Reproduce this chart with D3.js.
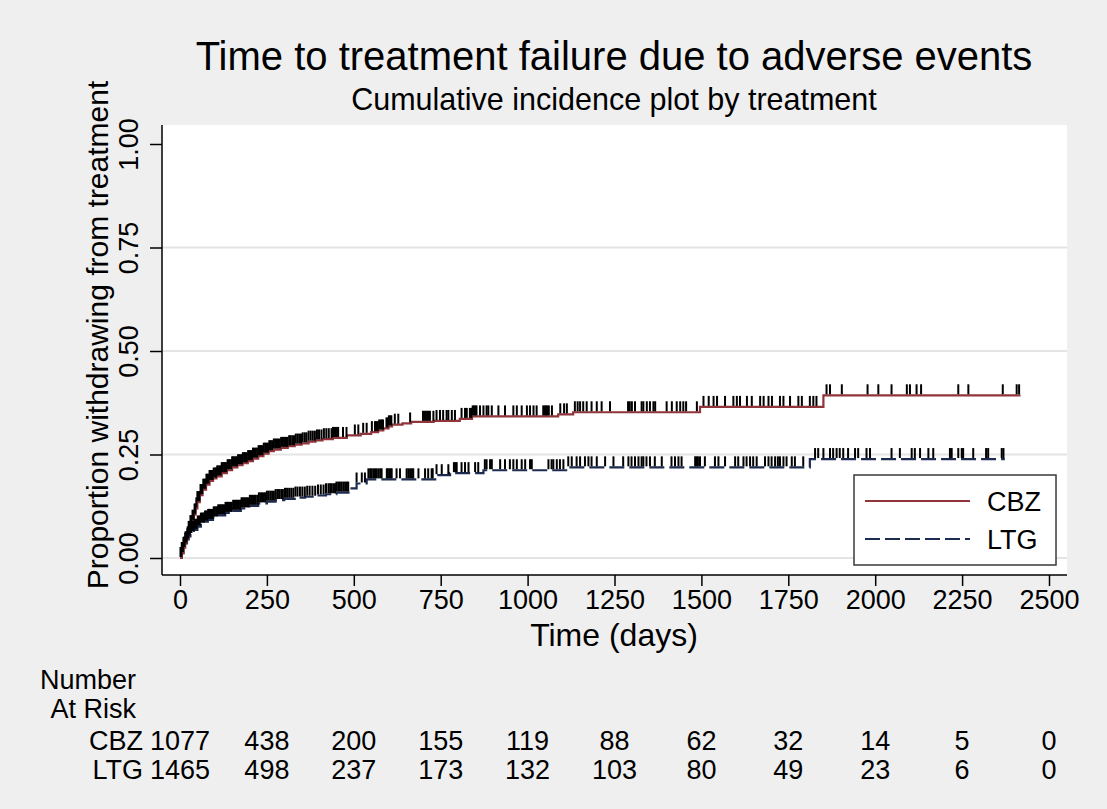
<!DOCTYPE html>
<html>
<head>
<meta charset="utf-8">
<script src="https://cdn.jsdelivr.net/npm/d3@7"></script>
<style>
  body { margin: 0; background: #efefef; }
  text { font-family: "Liberation Sans", Arial, sans-serif; fill: #000; }
</style>
</head>
<body>
<div id="svg_chart"></div>
<script>
// cumulative incidence step curves (time in days, proportion)
var cbz_times = [0, 5, 10, 15, 20, 25, 30, 35, 40, 45, 50, 57, 65, 75, 85, 95, 105, 120, 135, 150, 165, 180, 195, 210, 225, 240, 255, 270, 290, 310, 330, 350, 370, 390, 410, 440, 480, 520, 550, 570, 585, 600, 610, 640, 665, 730, 805, 840, 1088, 1131, 1496, 1851, 2418];
var cbz_inc = [0, 0.012, 0.025, 0.038, 0.05, 0.063, 0.077, 0.09, 0.105, 0.12, 0.135, 0.152, 0.165, 0.177, 0.186, 0.192, 0.197, 0.205, 0.212, 0.219, 0.224, 0.229, 0.234, 0.24, 0.246, 0.252, 0.258, 0.262, 0.266, 0.27, 0.274, 0.277, 0.281, 0.284, 0.287, 0.29, 0.296, 0.3, 0.304, 0.308, 0.313, 0.318, 0.322, 0.325, 0.329, 0.331, 0.336, 0.342, 0.347, 0.352, 0.365, 0.393, 0.393];

var ltg_times = [0, 5, 10, 15, 20, 25, 30, 35, 40, 50, 60, 70, 80, 95, 110, 130, 150, 175, 200, 225, 250, 275, 300, 330, 360, 390, 420, 450, 489, 508, 537, 738, 777, 873, 1117, 1812, 2373];
var ltg_inc = [0, 0.012, 0.024, 0.035, 0.045, 0.052, 0.058, 0.063, 0.068, 0.076, 0.083, 0.088, 0.092, 0.098, 0.103, 0.109, 0.114, 0.12, 0.126, 0.132, 0.136, 0.14, 0.143, 0.146, 0.148, 0.151, 0.154, 0.158, 0.168, 0.18, 0.19, 0.2, 0.205, 0.212, 0.219, 0.239, 0.239];

// censoring times
var cbz_censor = [2, 5, 8, 11, 13, 16, 19, 22, 25, 27, 30, 33, 36, 39, 42, 44, 47, 50, 53, 56, 59, 62, 64, 67, 70, 73, 76, 79, 82, 85, 88, 91, 94, 97, 101, 104, 107, 110, 114, 117, 120, 123, 127, 130, 133, 137, 140, 143, 147, 150, 153, 157, 160, 164, 167, 171, 174, 178, 181, 185, 188, 192, 196, 199, 203, 207, 210, 214, 218, 222, 226, 230, 233, 237, 241, 245, 249, 253, 257, 261, 265, 270, 274, 278, 282, 287, 291, 296, 300, 305, 309, 314, 318, 323, 328, 333, 338, 343, 348, 353, 359, 364, 370, 376, 382, 388, 394, 400, 407, 414, 421, 428, 436,
  440, 443, 447, 451, 455, 469, 479, 503, 513, 527, 537, 552, 561, 565, 569, 573, 577, 581, 584, 594, 597, 601, 605, 608, 618, 628, 662, 699, 703, 707, 711, 715, 719, 729, 738, 748, 757, 767, 772, 782, 791, 810, 820, 825, 834, 838, 842, 846, 850, 853, 863, 873, 882,
  887, 897, 916, 935, 959, 969, 983, 998, 1007, 1017, 1026, 1045, 1049, 1053, 1057, 1061, 1070, 1094, 1105, 1113, 1136, 1144, 1151, 1160, 1170, 1184, 1199, 1213, 1237, 1289, 1294, 1300, 1309, 1328,
  1333, 1343, 1352, 1362, 1367, 1400, 1415, 1429, 1439, 1448, 1456, 1487, 1506, 1521, 1535, 1545, 1568, 1592, 1602, 1611, 1631, 1645, 1669, 1679, 1693, 1703, 1726, 1736, 1755, 1779,
  1789, 1812, 1822, 1831, 1860, 1870, 1904, 1978, 2009, 2047, 2091, 2100, 2119, 2132, 2239, 2268, 2367, 2407, 2414];

var ltg_censor = [2, 4, 7, 10, 12, 15, 18, 21, 24, 27, 30, 33, 36, 39, 42, 45, 48, 51, 54, 57, 60, 63, 66, 69, 72, 75, 78, 81, 84, 87, 90, 94, 97, 100, 104, 107, 110, 114, 117, 121, 124, 128, 131, 135, 138, 142, 146, 149, 153, 157, 161, 165, 169, 173, 177, 181, 185, 189, 193, 197, 201, 205, 210, 214, 218, 223, 227, 232, 236, 241, 245, 250, 255, 260, 265, 270, 275, 280, 285, 291, 296, 302, 308, 314, 320, 326, 332, 338, 345, 352, 359, 366, 373, 381, 389, 397, 405, 413, 420, 427,
  432, 436, 441, 446, 450, 455, 460, 465, 470, 475, 480, 484, 508, 523, 532, 542, 547, 551, 556, 561, 566, 571, 576, 580, 595, 598, 602, 606, 609, 623, 633, 652, 657, 662, 667, 671, 686, 705, 714, 724, 727, 738, 753, 772, 788, 792, 796, 810, 820, 830, 849, 858, 877,
  882, 892, 897, 921, 935, 949, 959, 969, 983, 993, 1007, 1012, 1060, 1069, 1074, 1084, 1093, 1103, 1117, 1127, 1141, 1151, 1165, 1175, 1184, 1199, 1223, 1247, 1275, 1290, 1299, 1309, 1319, 1328,
  1333, 1342, 1352, 1366, 1386, 1414, 1424, 1434, 1443, 1482, 1486, 1490, 1496, 1510, 1539, 1549, 1568, 1597, 1606, 1621, 1630, 1640, 1649, 1659, 1683, 1693, 1702, 1712, 1720, 1726, 1736, 1745, 1760, 1769,
  1793, 1827, 1836, 1851, 1870, 1879, 1889, 1898, 1908, 1922, 1942, 1951, 1975, 1985, 2047, 2071, 2105, 2114, 2129, 2153, 2167, 2215,
  2220, 2239, 2249, 2253, 2282, 2319, 2325, 2364, 2369];

// ticks and number at risk table
var x_ticks = [0, 250, 500, 750, 1000, 1250, 1500, 1750, 2000, 2250, 2500];
var y_ticks = [0, 0.25, 0.5, 0.75, 1];
var groups = ["CBZ", "LTG"];
var cbz_at_risk = [1077, 438, 200, 155, 119, 88, 62, 32, 14, 5, 0];
var ltg_at_risk = [1465, 498, 237, 173, 132, 103, 80, 49, 23, 6, 0];

var cbz_color = "#91353b";
var ltg_color = "#1c2b4f";

const svg_width = 1107
const svg_height = 809
const plot_left = 162
const plot_right = 1067
const plot_top = 125
const plot_bottom = 575

var svg = d3.select('#svg_chart').append('svg')
  .attr('width', svg_width)
  .attr('height', svg_height);

svg.append('rect')
  .attr('width', svg_width)
  .attr('height', svg_height)
  .attr('fill', '#efefef');

// plot region
svg.append('rect')
  .attr('x', plot_left)
  .attr('y', plot_top)
  .attr('width', plot_right - plot_left)
  .attr('height', plot_bottom - plot_top)
  .attr('fill', 'white');

var x_scale = d3.scaleLinear()
  .domain([0, 2500])
  .range([180, 1049]);

var y_scale = d3.scaleLinear()
  .domain([0, 1])
  .range([558, 144]);

// horizontal grid lines
svg.selectAll('.grid')
  .data(y_ticks.filter(function(d){ return d < 1; }))
  .enter()
  .append('line')
  .attr('class', 'grid')
  .attr('x1', plot_left)
  .attr('x2', plot_right)
  .attr('y1', function(d){ return y_scale(d); })
  .attr('y2', function(d){ return y_scale(d); })
  .attr('stroke', '#e4e4e4')
  .attr('stroke-width', 2);

// x axis
var x_axis = d3.axisBottom(x_scale)
  .tickValues(x_ticks)
  .tickSize(11)
  .tickPadding(4)
  .tickFormat(d3.format('d'));

var x_axis_g = svg.append('g')
  .attr('transform', `translate(0,${plot_bottom})`)
  .call(x_axis);
x_axis_g.select('.domain').remove();
x_axis_g.append('line')
  .attr('x1', plot_left).attr('x2', plot_right)
  .attr('y1', 0).attr('y2', 0)
  .attr('stroke', 'black').attr('stroke-width', 1.5);
x_axis_g.selectAll('.tick line').attr('stroke-width', 1.5);
x_axis_g.selectAll('.tick text')
  .style('font-size', '27px')
  .style('font-family', '"Liberation Sans", Arial, sans-serif')
  .attr('fill', 'black');

// y axis
var y_axis = d3.axisLeft(y_scale)
  .tickValues(y_ticks)
  .tickSize(12)
  .tickFormat(d3.format('.2f'));

var y_axis_g = svg.append('g')
  .attr('transform', `translate(${plot_left},0)`)
  .call(y_axis);
y_axis_g.select('.domain').remove();
y_axis_g.append('line')
  .attr('x1', 0).attr('x2', 0)
  .attr('y1', plot_top).attr('y2', plot_bottom)
  .attr('stroke', 'black').attr('stroke-width', 1.5);
y_axis_g.selectAll('.tick line').attr('stroke-width', 1.5);
y_axis_g.selectAll('.tick text')
  .attr('x', null).attr('dy', null)
  .attr('transform', 'translate(-24,0) rotate(-90)')
  .attr('text-anchor', 'middle')
  .style('font-size', '27px')
  .style('font-family', '"Liberation Sans", Arial, sans-serif')
  .attr('fill', 'black');

// step curves
function make_points(times, inc){
  return times.map(function(t, i){ return [t, inc[i]]; });
}

var step_line = d3.line()
  .x(function(d){ return x_scale(d[0]); })
  .y(function(d){ return y_scale(d[1]); })
  .curve(d3.curveStepAfter);

svg.append('path')
  .datum(make_points(ltg_times, ltg_inc))
  .attr('d', step_line)
  .attr('fill', 'none')
  .attr('stroke', ltg_color)
  .attr('stroke-width', 2.2)
  .attr('stroke-dasharray', '15,5');

svg.append('path')
  .datum(make_points(cbz_times, cbz_inc))
  .attr('d', step_line)
  .attr('fill', 'none')
  .attr('stroke', cbz_color)
  .attr('stroke-width', 2.2);

// censor marks sit on top of the curve
function value_at(times, inc, t){
  var i = d3.bisectRight(times, t) - 1;
  return inc[Math.max(0, i)];
}

function draw_censor(times, inc, censor){
  svg.append('g').selectAll('line')
    .data(censor)
    .enter()
    .append('line')
    .attr('x1', function(d){ return x_scale(d); })
    .attr('x2', function(d){ return x_scale(d); })
    .attr('y1', function(d){ return y_scale(value_at(times, inc, d)) - 1; })
    .attr('y2', function(d){ return y_scale(value_at(times, inc, d)) - 11; })
    .attr('stroke', 'black')
    .attr('stroke-width', 2);
}
draw_censor(cbz_times, cbz_inc, cbz_censor);
draw_censor(ltg_times, ltg_inc, ltg_censor);

// legend
var legend = svg.append('g');
legend.append('rect')
  .attr('x', 854)
  .attr('y', 475)
  .attr('width', 202)
  .attr('height', 90)
  .attr('fill', 'white')
  .attr('stroke', '#3a3a3a')
  .attr('stroke-width', 1.5);

[cbz_color, ltg_color].forEach(function(color, index){
  var ly = 501 + index * 38;
  legend.append('line')
    .attr('x1', 865).attr('x2', 970)
    .attr('y1', ly).attr('y2', ly)
    .attr('stroke', color)
    .attr('stroke-width', 2.2)
    .attr('stroke-dasharray', index == 1 ? '15,5' : null);
  legend.append('text')
    .text(groups[index])
    .attr('x', 987)
    .attr('y', ly + 10)
    .style('font-size', '27px');
});

// titles
svg.append('text')
  .text('Time to treatment failure due to adverse events')
  .attr('x', 614)
  .attr('y', 70)
  .attr('text-anchor', 'middle')
  .style('font-size', '40px');

svg.append('text')
  .text('Cumulative incidence plot by treatment')
  .attr('x', 614)
  .attr('y', 110)
  .attr('text-anchor', 'middle')
  .style('font-size', '30.5px');

svg.append('text')
  .text('Time (days)')
  .attr('x', 614)
  .attr('y', 646)
  .attr('text-anchor', 'middle')
  .style('font-size', '32px');

svg.append('text')
  .text('Proportion withdrawing from treatment')
  .attr('transform', 'translate(108,335) rotate(-90)')
  .attr('text-anchor', 'middle')
  .style('font-size', '30px');

// number at risk table
svg.append('text')
  .text('Number')
  .attr('x', 136).attr('y', 689)
  .attr('text-anchor', 'end')
  .style('font-size', '27px');
svg.append('text')
  .text('At Risk')
  .attr('x', 136).attr('y', 718)
  .attr('text-anchor', 'end')
  .style('font-size', '27px');

[cbz_at_risk, ltg_at_risk].forEach(function(row, index){
  var ry = 750 + index * 29;
  svg.append('text')
    .text(groups[index])
    .attr('x', 143).attr('y', ry)
    .attr('text-anchor', 'end')
    .style('font-size', '27px');
  svg.append('g').selectAll('text')
    .data(row)
    .enter()
    .append('text')
    .text(function(d){ return d; })
    .attr('x', function(d, i){ return x_scale(x_ticks[i]); })
    .attr('y', ry)
    .attr('text-anchor', 'middle')
    .style('font-size', '27px');
});
</script>
</body>
</html>
